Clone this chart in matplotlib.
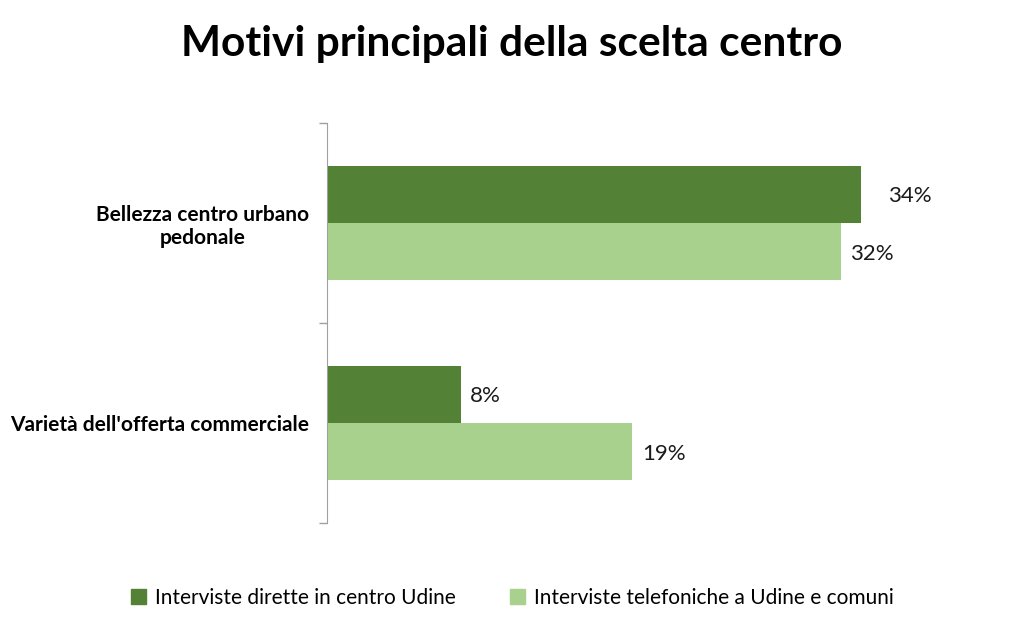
import matplotlib
matplotlib.use("Agg")
import matplotlib.pyplot as plt
from matplotlib.patches import Patch
import numpy as np

plt.rcParams['font.family'] = ['Lato', 'DejaVu Sans']

categories = ["Bellezza centro urbano\npedonale", "Varietà dell'offerta commerciale"]
series_names = ["Interviste dirette in centro Udine", "Interviste telefoniche a Udine e comuni"]
dirette = [33.6, 8.4]
telefoniche = [32.3, 19.2]
colors = ["#538135", "#A9D18E"]
label_offsets = [[1.7, 0.6], [0.6, 0.6]]

fig = plt.figure(figsize=(10.24, 6.25), dpi=100)
ax = fig.add_axes([327/1024, 102/625, (15.9*40)/1024, 400/625])

y = np.arange(len(categories))
h = 0.285
ax.barh(y - h/2, dirette, height=h, color=colors[0], label=series_names[0])
ax.barh(y + h/2, telefoniche, height=h, color=colors[1], label=series_names[1])

for i, v in enumerate(dirette):
    ax.text(v + label_offsets[i][0], y[i] - h/2 + 0.01, f"{v:.0f}%", va="center", ha="left",
            fontsize=16, color="#1a1a1a")
for i, v in enumerate(telefoniche):
    ax.text(v + label_offsets[i][1], y[i] + h/2 + 0.01, f"{v:.0f}%", va="center", ha="left",
            fontsize=16, color="#1a1a1a")

ax.set_xlim(0, 40)
ax.set_ylim(1.5, -0.5)
ax.set_xticks([])
ax.set_yticks([-0.5, 0.5, 1.5])
ax.set_yticklabels([])
ax.set_yticks(y, minor=True)
ax.set_yticklabels(categories, minor=True, fontsize=15, fontweight="bold",
                   ha="right", multialignment="center")
ax.tick_params(axis="y", which="minor", length=0, pad=13)
ax.tick_params(axis="y", which="major", length=6, color="#A0A0A0", width=1)
for s in ["top", "right", "bottom"]:
    ax.spines[s].set_visible(False)
ax.spines["left"].set_color("#A0A0A0")

fig.text(0.5, 0.93, "Motivi principali della scelta centro", ha="center", va="center",
         fontsize=30.6, fontweight="bold", color="black")

handles = [Patch(color=colors[0]), Patch(color=colors[1])]
fig.legend(handles, series_names, loc="center", bbox_to_anchor=(0.5, 0.043), ncol=2,
           frameon=False, fontsize=15, handlelength=0.75, handleheight=0.75,
           handletextpad=0.4, columnspacing=2.6)

fig.savefig("out.png", dpi=100)
